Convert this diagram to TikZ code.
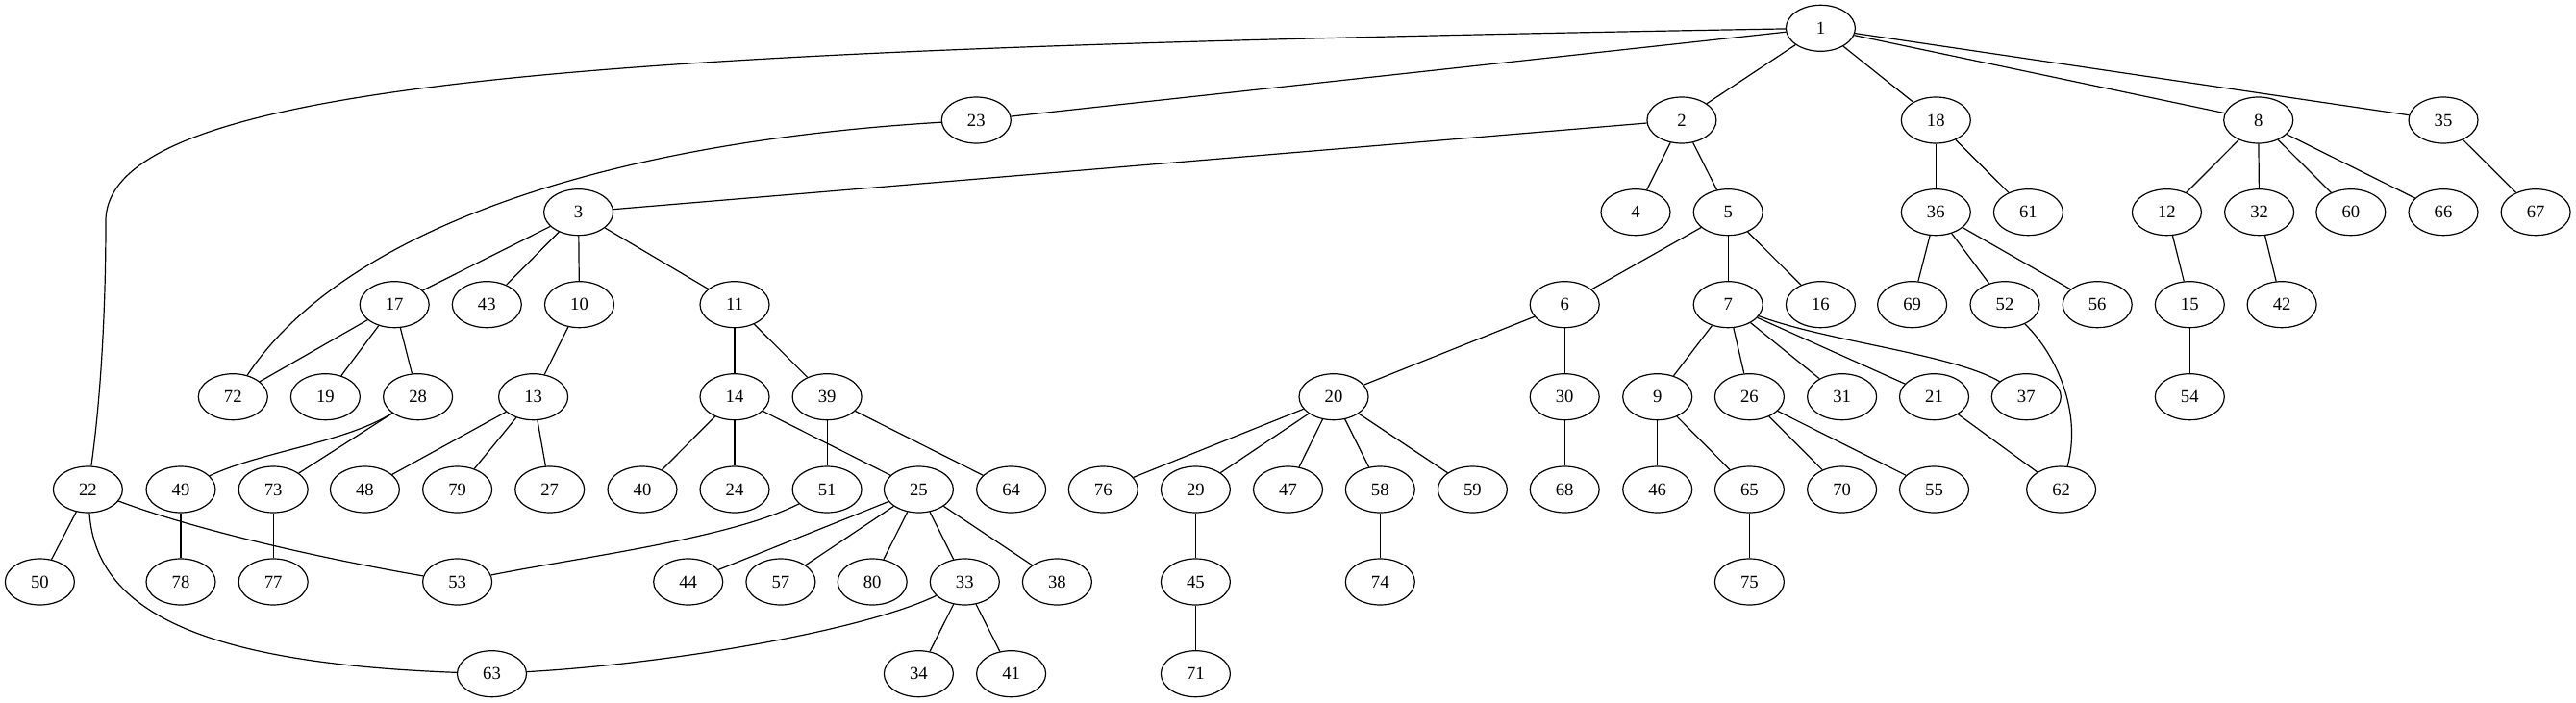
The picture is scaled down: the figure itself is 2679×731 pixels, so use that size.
\documentclass[tikz,border=0pt]{standalone}
\usepackage{fontspec}
\setmainfont{Liberation Serif}
\usetikzlibrary{shapes.geometric}
\tikzset{
  vtx/.style={draw, ellipse, minimum width=54pt, minimum height=36pt, inner sep=0pt, line width=0.9pt, font=\fontsize{14pt}{16pt}\selectfont},
  lnk/.style={line width=0.9pt}
}
\begin{document}
\begin{tikzpicture}[x=0.75pt,y=-0.75pt]
\useasboundingbox (0,0) rectangle (2679,731);
% row 0
\node[vtx] (n1) at (1893.4,29.3) {1};
% row 1
\node[vtx] (n23) at (1015.3,125) {23};
\node[vtx] (n2) at (1748.9,125) {2};
\node[vtx] (n18) at (2013.3,125) {18};
\node[vtx] (n8) at (2348.7,125) {8};
\node[vtx] (n35) at (2541,125) {35};
% row 2
\node[vtx] (n3) at (601.6,220.7) {3};
\node[vtx] (n4) at (1701,220.7) {4};
\node[vtx] (n5) at (1797.2,220.7) {5};
\node[vtx] (n36) at (2013.3,220.7) {36};
\node[vtx] (n61) at (2109.4,220.7) {61};
\node[vtx] (n12) at (2253.4,220.7) {12};
\node[vtx] (n32) at (2349.6,220.7) {32};
\node[vtx] (n60) at (2444.8,220.7) {60};
\node[vtx] (n66) at (2541,220.7) {66};
\node[vtx] (n67) at (2637.1,220.7) {67};
% row 3
\node[vtx] (n17) at (410.2,316.7) {17};
\node[vtx] (n43) at (506.3,316.7) {43};
\node[vtx] (n10) at (602.5,316.7) {10};
\node[vtx] (n11) at (764,316.7) {11};
\node[vtx] (n6) at (1627.2,316.7) {6};
\node[vtx] (n7) at (1797.2,316.7) {7};
\node[vtx] (n16) at (1893.4,316.7) {16};
\node[vtx] (n69) at (1988.6,316.7) {69};
\node[vtx] (n52) at (2085,316.7) {52};
\node[vtx] (n56) at (2181.2,316.7) {56};
\node[vtx] (n15) at (2277.3,316.7) {15};
\node[vtx] (n42) at (2373.1,316.7) {42};
% row 4
\node[vtx] (n72) at (242.3,412.7) {72};
\node[vtx] (n19) at (338.4,412.7) {19};
\node[vtx] (n28) at (434.6,412.7) {28};
\node[vtx] (n13) at (554.6,412.7) {13};
\node[vtx] (n14) at (764,412.7) {14};
\node[vtx] (n39) at (860.1,412.7) {39};
\node[vtx] (n20) at (1387,412.7) {20};
\node[vtx] (n30) at (1627.2,412.7) {30};
\node[vtx] (n9) at (1723.7,412.7) {9};
\node[vtx] (n26) at (1819.4,412.7) {26};
\node[vtx] (n31) at (1915.6,412.7) {31};
\node[vtx] (n21) at (2011.5,412.7) {21};
\node[vtx] (n37) at (2107.3,412.7) {37};
\node[vtx] (n54) at (2277.3,412.7) {54};
% row 5
\node[vtx] (n22) at (91.4,509) {22};
\node[vtx] (n49) at (188,509) {49};
\node[vtx] (n73) at (284.2,509) {73};
\node[vtx] (n48) at (379.4,509) {48};
\node[vtx] (n79) at (475.6,509) {79};
\node[vtx] (n27) at (571.7,509) {27};
\node[vtx] (n40) at (668,509) {40};
\node[vtx] (n24) at (764,509) {24};
\node[vtx] (n51) at (860.1,509) {51};
\node[vtx] (n25) at (955.4,509) {25};
\node[vtx] (n64) at (1051.6,509) {64};
\node[vtx] (n76) at (1147.3,509) {76};
\node[vtx] (n29) at (1243.4,509) {29};
\node[vtx] (n47) at (1339.5,509) {47};
\node[vtx] (n58) at (1435.3,509) {58};
\node[vtx] (n59) at (1531.4,509) {59};
\node[vtx] (n68) at (1627.2,509) {68};
\node[vtx] (n46) at (1723.7,509) {46};
\node[vtx] (n65) at (1819.4,509) {65};
\node[vtx] (n70) at (1915.6,509) {70};
\node[vtx] (n55) at (2011.5,509) {55};
\node[vtx] (n62) at (2143.6,509) {62};
% row 6
\node[vtx] (n50) at (41.4,605) {50};
\node[vtx] (n78) at (188,605) {78};
\node[vtx] (n77) at (284.2,605) {77};
\node[vtx] (n53) at (475.6,605) {53};
\node[vtx] (n44) at (715.7,605) {44};
\node[vtx] (n57) at (811.9,605) {57};
\node[vtx] (n80) at (907.2,605) {80};
\node[vtx] (n33) at (1003.3,605) {33};
\node[vtx] (n38) at (1099.4,605) {38};
\node[vtx] (n45) at (1243.4,605) {45};
\node[vtx] (n74) at (1435.3,605) {74};
\node[vtx] (n75) at (1819.4,605) {75};
% row 7
\node[vtx] (n63) at (511.5,700.7) {63};
\node[vtx] (n34) at (955.4,700.7) {34};
\node[vtx] (n41) at (1051.6,700.7) {41};
\node[vtx] (n71) at (1243.4,700.7) {71};

% curved edges
\draw[lnk] (n1) .. controls (700,50) and (110,75) .. (110,230) .. controls (110,330) and (104,420) .. (n22);
\draw[lnk] (n23) .. controls (600,150) and (350,250) .. (n72);
\draw[lnk] (n7) .. controls (1900,355) and (2030,368) .. (n37);
\draw[lnk] (n52) .. controls (2140,370) and (2165,430) .. (n62);
\draw[lnk] (n28) .. controls (360,460) and (270,470) .. (n49);
\draw[lnk] (n22) .. controls (200,550) and (330,580) .. (n53);
\draw[lnk] (n51) .. controls (760,560) and (600,580) .. (n53);
\draw[lnk] (n22) .. controls (100,640) and (220,690) .. (n63);
\draw[lnk] (n33) .. controls (900,655) and (700,690) .. (n63);

% straight edges
\foreach \a/\b in {1/23,1/2,1/18,1/8,1/35,
  2/3,2/4,2/5,18/36,18/61,8/12,8/32,8/60,8/66,35/67,
  3/17,3/43,3/10,3/11,5/6,5/7,5/16,36/69,36/52,36/56,12/15,32/42,
  17/72,17/19,17/28,10/13,11/14,11/39,6/20,6/30,7/9,7/26,7/31,7/21,15/54,
  28/73,13/48,13/79,13/27,14/40,14/24,14/25,39/51,39/64,
  20/76,20/29,20/47,20/58,20/59,30/68,9/46,9/65,26/70,26/55,21/62,
  22/50,49/78,73/77,25/44,25/57,25/80,25/33,25/38,29/45,58/74,65/75,
  33/34,33/41,45/71}
  \draw[lnk] (n\a) -- (n\b);
\end{tikzpicture}
\end{document}
